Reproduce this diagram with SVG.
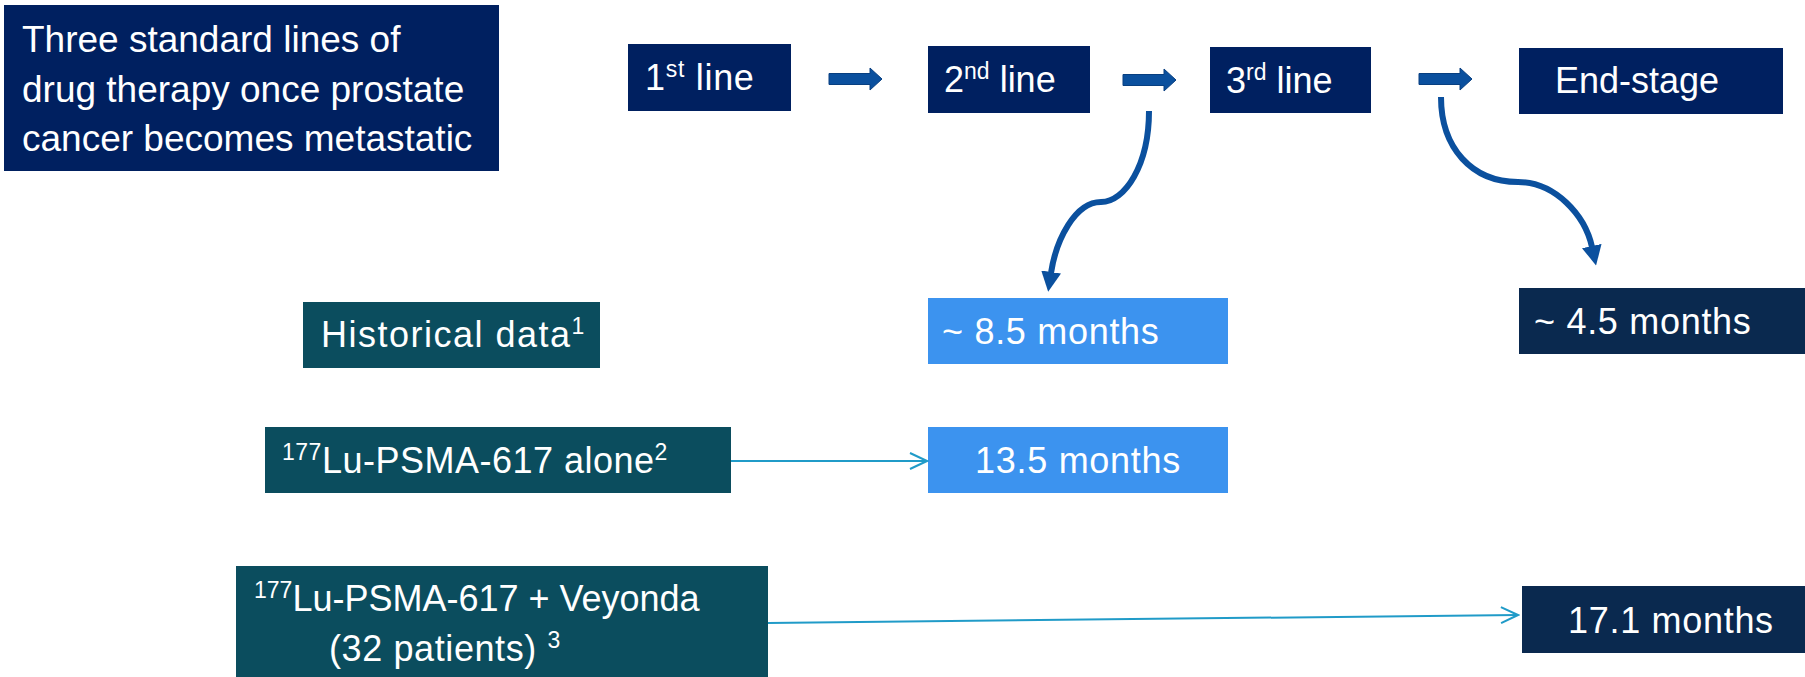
<svg xmlns="http://www.w3.org/2000/svg" width="1805" height="677" viewBox="0 0 1805 677">
<style>
  text { font-family: "Liberation Sans", Arial, sans-serif; fill: #ffffff; font-size: 36px; }
  .title { font-size: 37px; }
  .wide { letter-spacing: 0.7px; }
  .navy { fill: #002060; }
  .dark { fill: #0a294f; }
  .teal { fill: #0b4d5e; }
  .light { fill: #3c93ef; }
  .curve { fill: none; stroke: #0b509e; stroke-width: 6; }
  .thin { fill: none; stroke: #209bc8; stroke-width: 2; }
  .blk { fill: #0b509e; stroke: #083f80; stroke-width: 1; }
</style>
<defs>
  <marker id="head" markerUnits="userSpaceOnUse" markerWidth="20" markerHeight="20" viewBox="0 0 20 20" refX="1" refY="10" orient="auto">
    <path d="M0,0 L20,10 L0,20 z" fill="#0b509e"/>
  </marker>
  <marker id="chev" markerUnits="userSpaceOnUse" markerWidth="20" markerHeight="20" viewBox="0 0 20 20" refX="18" refY="10" orient="auto">
    <path d="M1,2 L18,10 L1,18" fill="none" stroke="#209bc8" stroke-width="2"/>
  </marker>
  <polygon id="barrow" points="0,-5.5 41,-5.5 41,-11 53,0 41,11 41,5.5 0,5.5"/>
</defs>

<g id="title">
  <rect class="navy" x="4" y="5" width="495" height="166"/>
  <text class="title" x="22" y="52">Three standard lines of</text>
  <text class="title" x="22" y="102">drug therapy once prostate</text>
  <text class="title" x="22" y="151">cancer becomes metastatic</text>
</g>

<g id="line1">
  <rect class="navy" x="628" y="44" width="163" height="67"/>
  <text x="645" y="90" class="wide">1<tspan font-size="23" dy="-13">st</tspan><tspan dy="13"> line</tspan></text>
</g>
<g id="line2">
  <rect class="navy" x="928" y="46" width="162" height="67"/>
  <text x="944" y="92">2<tspan font-size="23" dy="-13">nd</tspan><tspan dy="13"> line</tspan></text>
</g>
<g id="line3">
  <rect class="navy" x="1210" y="47" width="161" height="66"/>
  <text x="1226" y="93">3<tspan font-size="23" dy="-13">rd</tspan><tspan dy="13"> line</tspan></text>
</g>
<g id="endstage">
  <rect class="navy" x="1519" y="48" width="264" height="66"/>
  <text x="1555" y="93">End-stage</text>
</g>

<g id="historical">
  <rect class="teal" x="303" y="302" width="297" height="66"/>
  <text x="321" y="347" letter-spacing="1.5">Historical data<tspan font-size="23" dy="-13">1</tspan></text>
</g>
<g id="m85">
  <rect class="light" x="928" y="298" width="300" height="66"/>
  <text x="942" y="344" class="wide">~ 8.5 months</text>
</g>
<g id="m45">
  <rect class="dark" x="1519" y="288" width="286" height="66"/>
  <text x="1534" y="334" class="wide">~ 4.5 months</text>
</g>
<g id="lualone">
  <rect class="teal" x="265" y="427" width="466" height="66"/>
  <text x="282" y="473" letter-spacing="0.5"><tspan font-size="23" dy="-13">177</tspan><tspan dy="13">Lu-PSMA-617 alone</tspan><tspan font-size="23" dy="-13">2</tspan></text>
</g>
<g id="m135">
  <rect class="light" x="928" y="427" width="300" height="66"/>
  <text x="1078" y="473" text-anchor="middle" class="wide">13.5 months</text>
</g>
<g id="luveyonda">
  <rect class="teal" x="236" y="566" width="532" height="111"/>
  <text x="254" y="611"><tspan font-size="23" dy="-13">177</tspan><tspan dy="13">Lu-PSMA-617 + Veyonda</tspan></text>
  <text x="329" y="661" letter-spacing="0.6">(32 patients) <tspan font-size="23" dy="-13">3</tspan></text>
</g>
<g id="m171">
  <rect class="dark" x="1522" y="586" width="283" height="67"/>
  <text x="1568" y="633" class="wide">17.1 months</text>
</g>

<g id="connectors">
  <use href="#barrow" class="blk" transform="translate(829,79)"/>
  <use href="#barrow" class="blk" transform="translate(1123,80)"/>
  <use href="#barrow" class="blk" transform="translate(1419,79)"/>
  <path class="curve" d="M1149,111 C1149,165 1125,202 1101,202 C1075,202 1056,240 1051,273" marker-end="url(#head)"/>
  <path class="curve" d="M1441,97 C1441,148 1472,182 1518,182 C1555,182 1585,215 1592,247" marker-end="url(#head)"/>
  <path class="thin" d="M731,461 L927,461" marker-end="url(#chev)"/>
  <path class="thin" d="M768,623 L1518,615" marker-end="url(#chev)"/>
</g>
</svg>
